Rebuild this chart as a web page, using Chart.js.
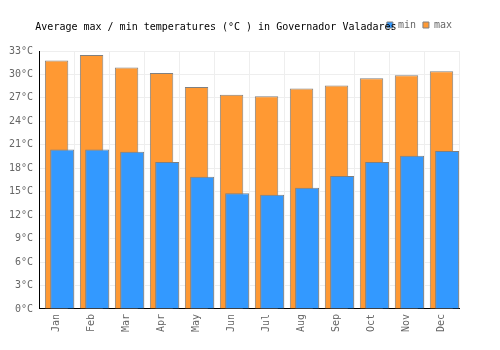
<!DOCTYPE html>
<html>
<head>
<meta charset="utf-8">
<script src="https://cdn.jsdelivr.net/npm/chart.js@4/dist/chart.umd.min.js"></script>
<style>
  html, body { margin: 0; padding: 0; background: #fff; }
  #wrap { width: 500px; height: 350px; }
</style>
</head>
<body>
<div id="wrap"><canvas id="tempChart" width="500" height="350"></canvas></div>
<script>
// Chart data
const months = ['Jan', 'Feb', 'Mar', 'Apr', 'May', 'Jun', 'Jul', 'Aug', 'Sep', 'Oct', 'Nov', 'Dec'];
const minTemps = [20.4, 20.4, 20.1, 18.8, 16.9, 14.8, 14.6, 15.5, 17.0, 18.8, 19.6, 20.2];
const maxTemps = [31.8, 32.5, 30.9, 30.2, 28.4, 27.4, 27.2, 28.2, 28.6, 29.5, 29.9, 30.4];
const yTicks = [0, 3, 6, 9, 12, 15, 18, 21, 24, 27, 30, 33];

Chart.defaults.font.family = "'DejaVu Sans Mono', monospace";
Chart.defaults.font.size = 10;
Chart.defaults.color = '#666';

new Chart(document.getElementById('tempChart'), {
    type: 'bar',
    data: {
        labels: months,
        datasets: [{
            // empty slot so the min bars sit right of centre
            label: '',
            data: months.map(() => null),
            order: -1
        }, {
            label: 'min',
            data: minTemps,
            order: 0,
            backgroundColor: '#3399ff',
            borderColor: '#808080',
            borderWidth: 1,
            categoryPercentage: 0.64,
            barPercentage: 2.14
        }, {
            label: 'max',
            data: maxTemps,
            order: 1,
            grouped: false,
            backgroundColor: '#ff9933',
            borderColor: '#808080',
            borderWidth: 1,
            categoryPercentage: 1,
            barPercentage: 0.67
        }]
    },
    options: {
        responsive: false,
        animation: false,
        layout: {
            padding: { left: 3, right: 41, top: 13, bottom: 13 }
        },
        plugins: {
            title: {
                display: true,
                text: 'Average max / min temperatures (°C ) in Governador Valadares     ',
                color: '#000',
                font: { size: 10, weight: 'normal' },
                padding: { top: -19, bottom: 18 }
            },
            legend: {
                position: 'top',
                align: 'end',
                weight: 3000,
                labels: {
                    boxWidth: 6,
                    boxHeight: 6,
                    padding: 7,
                    color: '#666',
                    filter: function (item) {
                        return item.text !== '';
                    }
                }
            },
            tooltip: { enabled: false }
        },
        scales: {
            x: {
                offset: true,
                grid: { color: '#eeeeee', offset: true, drawTicks: false },
                border: { color: '#000' },
                ticks: { maxRotation: 90, minRotation: 90, padding: 5, color: '#666' }
            },
            y: {
                min: 0,
                max: 33,
                afterBuildTicks: function (axis) {
                    axis.ticks = yTicks.map(v => ({ value: v }));
                },
                grid: { color: '#eeeeee', drawTicks: false },
                border: { color: '#000' },
                ticks: {
                    padding: 6,
                    color: '#666',
                    callback: function (value) {
                        return value + '°C';
                    }
                }
            }
        }
    }
});
</script>
</body>
</html>
